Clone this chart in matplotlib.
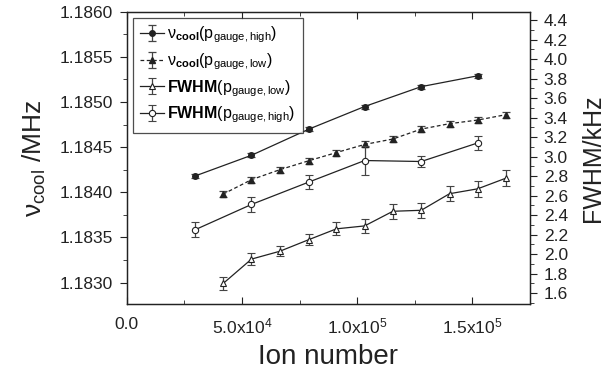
import matplotlib
matplotlib.use("Agg")
import numpy as np
import matplotlib.pyplot as plt
from matplotlib.ticker import MultipleLocator, FuncFormatter

plt.rcParams["font.family"] = ["Liberation Sans", "DejaVu Sans"]
plt.rcParams["mathtext.fontset"] = "custom"
plt.rcParams["mathtext.rm"] = "Liberation Sans"
plt.rcParams["mathtext.bf"] = "Liberation Sans:bold"
plt.rcParams["mathtext.it"] = "Liberation Sans:italic"

# ion numbers
ions_high = [29600, 54150, 79100, 103250, 127800, 152300]
ions_low = [41850, 54150, 66400, 79100, 91000, 103250, 115500, 127800, 140100, 152300, 164650]

# nu_cool (MHz), left axis
nu_high = [1.18418, 1.18441, 1.18470, 1.18495, 1.18517, 1.18529]
nu_high_err = [0.000022] * 6
nu_low = [1.18398, 1.18414, 1.18425, 1.18435, 1.18444, 1.18453,
          1.18459, 1.18470, 1.18476, 1.18480, 1.18486]
nu_low_err = [0.000033] * 11

# FWHM (kHz), right axis
fwhm_high = [2.25, 2.51, 2.74, 2.96, 2.95, 3.14]
fwhm_high_err = [0.075, 0.075, 0.07, 0.15, 0.06, 0.07]
fwhm_low = [1.70, 1.95, 2.03, 2.15, 2.26, 2.29, 2.44, 2.45, 2.62, 2.67, 2.78]
fwhm_low_err = [0.07, 0.06, 0.05, 0.06, 0.065, 0.07, 0.077, 0.077, 0.077, 0.08, 0.078]

labels = [
    r"ν$_{\mathbf{cool}}$(p$_{\mathrm{gauge,high}}$)",
    r"ν$_{\mathbf{cool}}$(p$_{\mathrm{gauge,low}}$)",
    r"$\mathbf{FWHM}$(p$_{\mathrm{gauge,low}}$)",
    r"$\mathbf{FWHM}$(p$_{\mathrm{gauge,high}}$)",
]

c = "#222222"
ec = "#444444"

fig = plt.figure(figsize=(6.1, 3.86), dpi=100)
ax = fig.add_axes([0.2077, 0.2117, 0.6611, 0.7580])
ax2 = ax.twinx()

common = dict(color=c, ecolor=ec, elinewidth=0.9, capsize=3, capthick=0.9, lw=0.9)

h1 = ax.errorbar(ions_high, nu_high, yerr=nu_high_err, marker="o", ms=4,
                 mfc=c, mec=c, ls="-", **common)
h2 = ax.errorbar(ions_low, nu_low, yerr=nu_low_err, marker="^", ms=4.5,
                 mfc=c, mec=c, ls=(0, (3, 2)), **common)
h3 = ax2.errorbar(ions_low, fwhm_low, yerr=fwhm_low_err, marker="^", ms=5,
                  mfc="white", mec=c, mew=0.8, ls="-", **common)
h4 = ax2.errorbar(ions_high, fwhm_high, yerr=fwhm_high_err, marker="o", ms=4.5,
                  mfc="white", mec=c, mew=0.8, ls="-", **common)

ax.set_xlim(0, 175000)
ax.set_ylim(1.18276, 1.1860)
ax2.set_ylim(1.487, 4.485)

ax.xaxis.set_major_locator(MultipleLocator(50000))
ax.xaxis.set_minor_locator(MultipleLocator(25000))


def xfmt(v, pos):
    if abs(v) < 1:
        return "0.0"
    e = int(np.floor(np.log10(abs(v))))
    return "%.1fx10$^{%d}$" % (v / 10 ** e, e)


ax.xaxis.set_major_formatter(FuncFormatter(xfmt))
ax.yaxis.set_major_locator(MultipleLocator(0.0005))
ax.yaxis.set_minor_locator(MultipleLocator(0.00025))
ax.yaxis.set_major_formatter(FuncFormatter(lambda v, p: "%.4f" % v))
ax2.yaxis.set_major_locator(MultipleLocator(0.2))
ax2.yaxis.set_minor_locator(MultipleLocator(0.1))
ax2.yaxis.set_major_formatter(FuncFormatter(lambda v, p: "%.1f" % v))

ax.tick_params(axis="x", which="both", direction="in", top=True, labelsize=12.5,
               pad=9, colors=c)
ax.tick_params(axis="x", which="major", length=5)
ax.tick_params(axis="x", which="minor", length=3)
ax.tick_params(axis="y", which="both", direction="out", labelsize=12.5, pad=5, colors=c)
ax.tick_params(axis="y", which="major", length=5)
ax.tick_params(axis="y", which="minor", length=3)
ax2.tick_params(axis="y", which="both", direction="out", labelsize=12.5, pad=5, colors=c)
ax2.tick_params(axis="y", which="major", length=5)
ax2.tick_params(axis="y", which="minor", length=3)

for a in (ax, ax2):
    for s in a.spines.values():
        s.set_color(c)
        s.set_linewidth(0.9)

ax.set_xlabel("Ion number", fontsize=20, color=c, labelpad=5)
ax.set_ylabel(r"ν$_{\mathrm{cool}}$ /MHz", fontsize=19, color=c, labelpad=8)
ax2.set_ylabel("FWHM/kHz", fontsize=18, color=c, rotation=90, labelpad=9)

leg = ax2.legend([h1, h2, h3, h4], labels, loc="upper left",
                 bbox_to_anchor=(0.016, 0.98), borderaxespad=0, fontsize=11.5,
                 frameon=True, fancybox=False, handlelength=1.5, handletextpad=0.2,
                 labelspacing=0.38, borderpad=0.45)
leg.get_frame().set_edgecolor(c)
leg.get_frame().set_linewidth(0.9)

fig.savefig("out.png", dpi=100)
